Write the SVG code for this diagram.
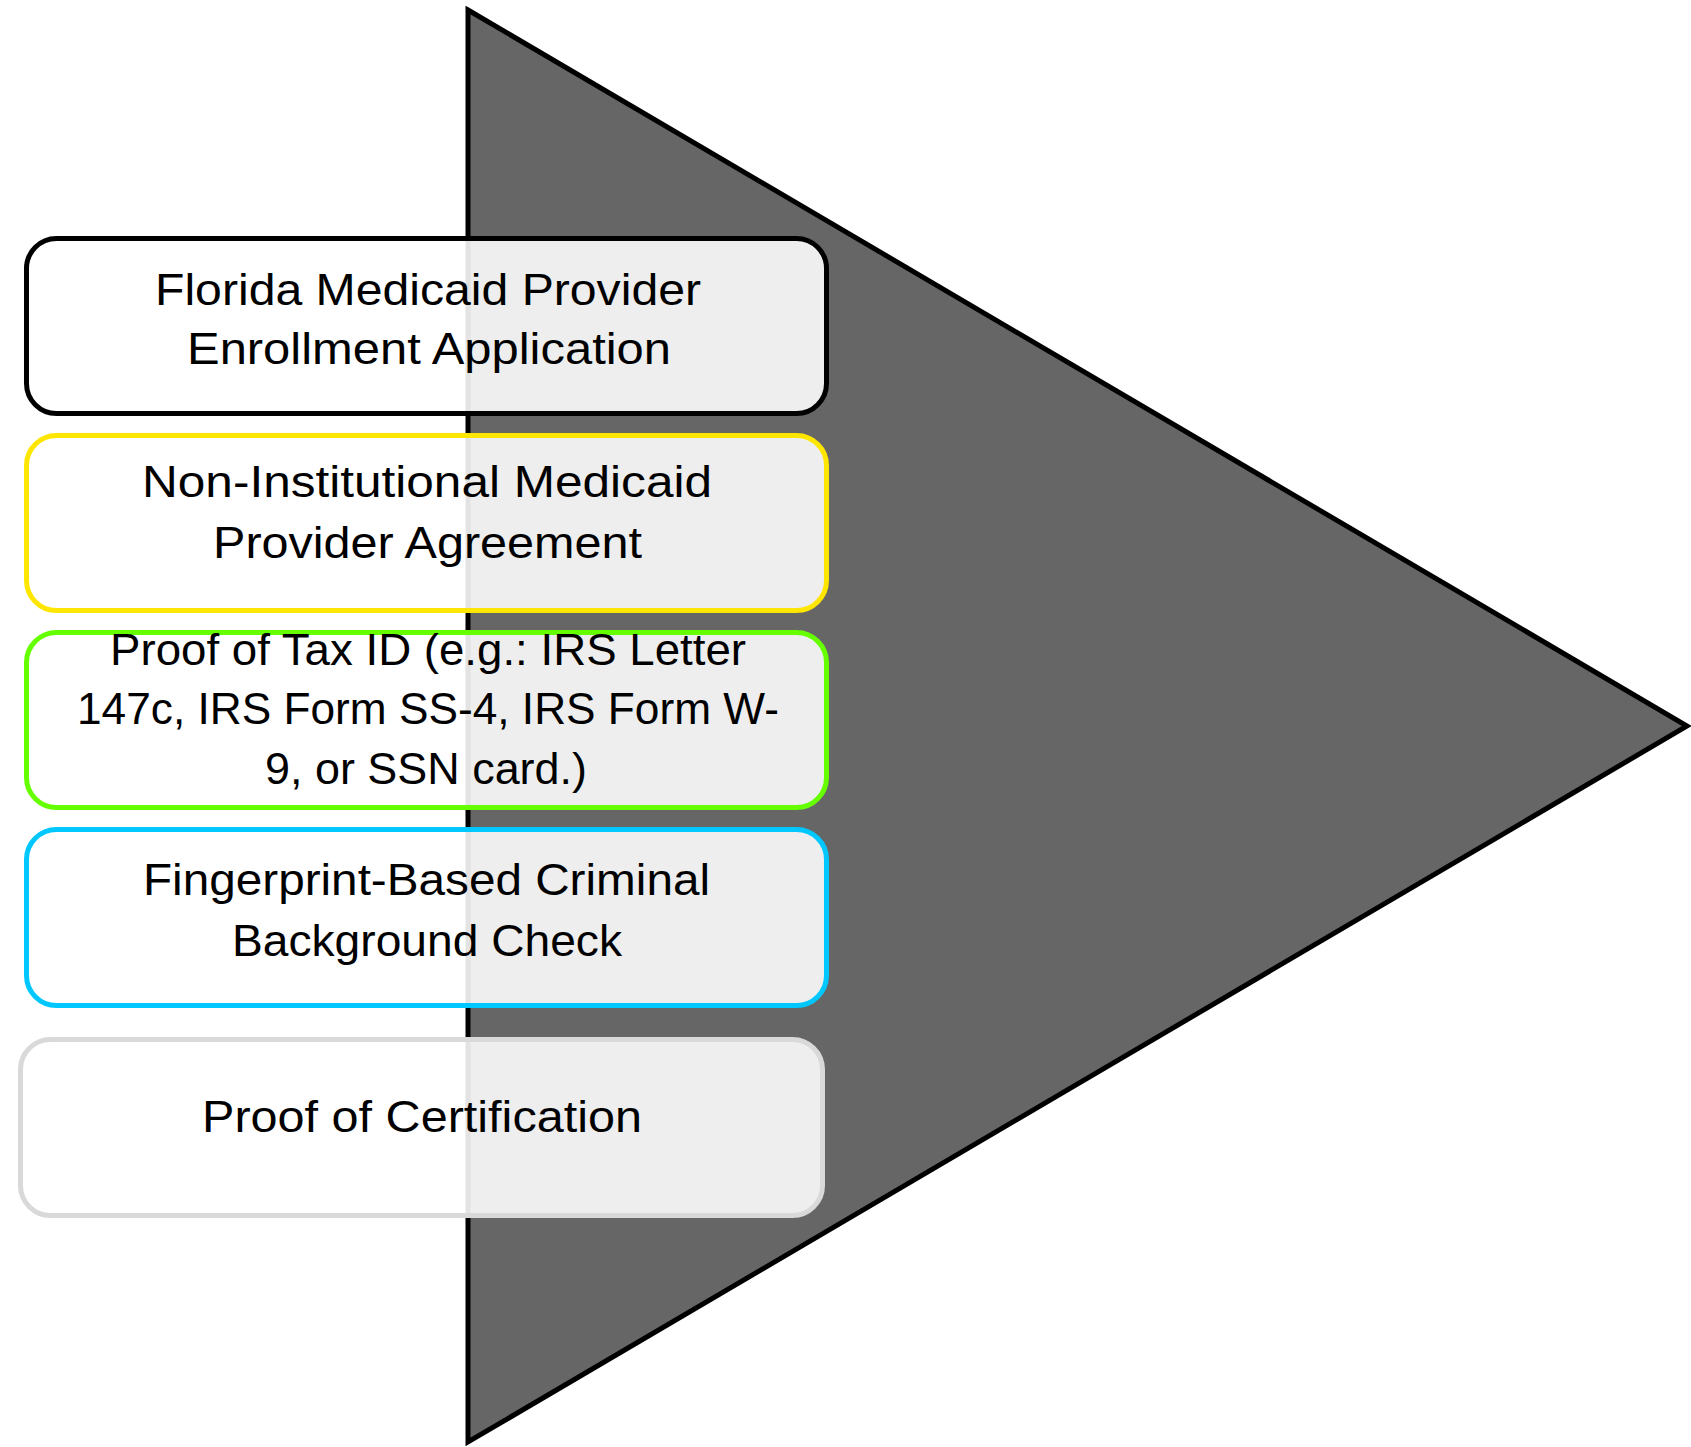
<svg xmlns="http://www.w3.org/2000/svg" width="1691" height="1447" viewBox="0 0 1691 1447">
<style>
.box{fill:#ffffff;fill-opacity:0.89;stroke-width:5}
.t{font-family:"Liberation Sans",Arial,sans-serif;font-size:44px;fill:#000000}
</style>
<rect width="1691" height="1447" fill="#ffffff"/>
<g id="arrow">
<polygon points="468,10 1687,726 468,1442" fill="#666666" stroke="#000000" stroke-width="5" stroke-linejoin="miter"/>
</g>
<g id="connectors"></g>
<g id="node1">
<rect class="box" x="26.5" y="238.5" width="800" height="175" rx="30" stroke="#000000"/>
<text class="t" x="155" y="305" textLength="546" lengthAdjust="spacingAndGlyphs">Florida Medicaid Provider</text>
<text class="t" x="187" y="364" textLength="484" lengthAdjust="spacingAndGlyphs">Enrollment Application</text>
</g>
<g id="node2">
<rect class="box" x="26.5" y="435.5" width="800" height="175" rx="30" stroke="#ffe600"/>
<text class="t" x="142" y="497" textLength="570" lengthAdjust="spacingAndGlyphs">Non-Institutional Medicaid</text>
<text class="t" x="213" y="558" textLength="429" lengthAdjust="spacingAndGlyphs">Provider Agreement</text>
</g>
<g id="node3">
<rect class="box" x="26.5" y="632.5" width="800" height="175" rx="30" stroke="#66ff00"/>
<text class="t" x="110" y="665" textLength="636" lengthAdjust="spacingAndGlyphs">Proof of Tax ID (e.g.: IRS Letter</text>
<text class="t" x="77" y="724" textLength="702" lengthAdjust="spacingAndGlyphs">147c, IRS Form SS-4, IRS Form W-</text>
<text class="t" x="265" y="784" textLength="322" lengthAdjust="spacingAndGlyphs">9, or SSN card.)</text>
</g>
<g id="node4">
<rect class="box" x="26.5" y="829.5" width="800" height="176" rx="30" stroke="#00c8ff"/>
<text class="t" x="143" y="895" textLength="567" lengthAdjust="spacingAndGlyphs">Fingerprint-Based Criminal</text>
<text class="t" x="232" y="956" textLength="390" lengthAdjust="spacingAndGlyphs">Background Check</text>
</g>
<g id="node5">
<rect class="box" x="20.5" y="1039.5" width="802" height="176" rx="30" stroke="#d9d9d9"/>
<text class="t" x="202" y="1132" textLength="440" lengthAdjust="spacingAndGlyphs">Proof of Certification</text>
</g>
</svg>
